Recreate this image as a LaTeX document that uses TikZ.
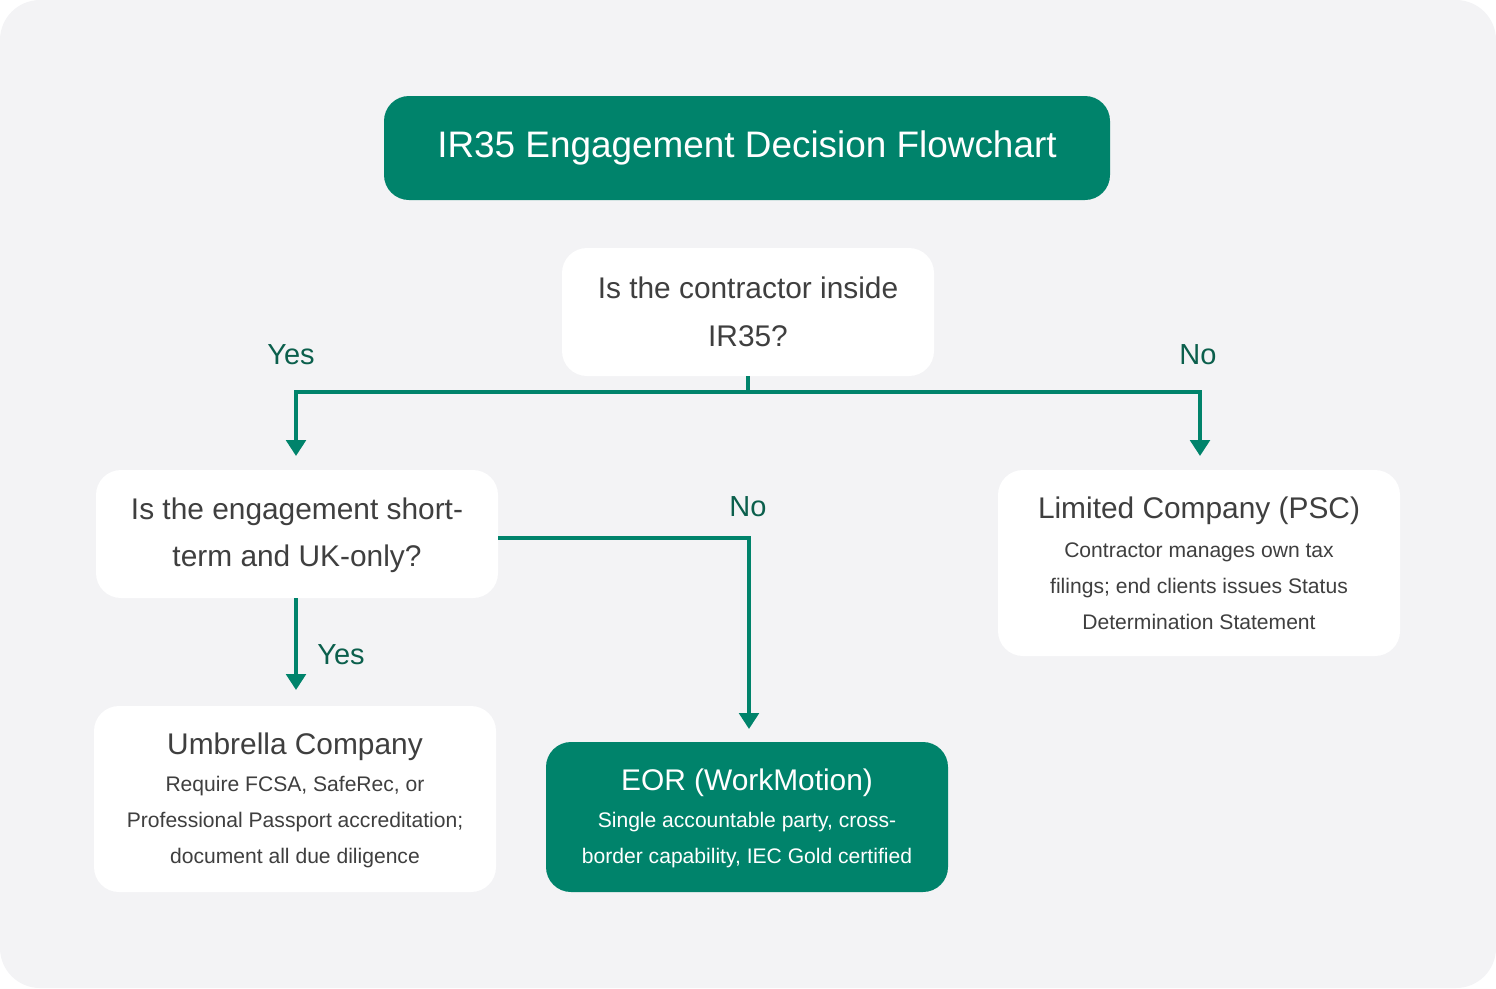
\documentclass[tikz,border=0pt]{standalone}
\usepackage{fontspec}
\setmainfont{Liberation Sans}
\usetikzlibrary{arrows.meta}
\definecolor{grn}{HTML}{00836B}
\definecolor{bg}{HTML}{F3F3F5}
\definecolor{txt}{HTML}{3F3F3F}
\definecolor{lbl}{HTML}{0B5F4C}
\begin{document}
\begin{tikzpicture}[x=0.02cm,y=-0.02cm,
 box/.style={fill=white,rounded corners=0.5cm,draw=none},
 gbox/.style={fill=grn,rounded corners=0.5cm,draw=none},
 q/.style={font=\fontsize{17}{27}\selectfont,text=txt,align=center},
 ttl/.style={font=\fontsize{17}{24}\selectfont,text=txt,align=center},
 bdy/.style={font=\fontsize{12}{20.4}\selectfont,text=txt,align=center},
 lb/.style={font=\fontsize{16.5}{20}\selectfont,text=lbl},
 conn/.style={draw=grn,line width=2.2pt},
 arr/.style={conn,-{Triangle[length=9pt,width=11pt]}}]
\useasboundingbox (0,0) rectangle (1496,988);
\fill[bg,rounded corners=0.8cm] (0,0) rectangle (1496,988);
% title
\fill[gbox] (384,96) rectangle (1110,200);
\node[font=\fontsize{21}{24}\selectfont,text=white] (title) at (747,148) {IR35 Engagement Decision Flowchart};
% Q1
\fill[box] (562,248) rectangle (934,376);
\node[q] (q1) at (748,312) {Is the contractor inside\\IR35?};
\coordinate (q1b) at (748,376);
% Q2
\fill[box] (96,470) rectangle (498,598);
\node[q] (q2) at (297,535) {Is the engagement short-\\term and UK-only?};
\coordinate (q2r) at (498,538);
\coordinate (q2b) at (296,598);
% Limited
\fill[box] (998,470) rectangle (1400,656);
\node[ttl] (lt) at (1199,511) {Limited Company (PSC)};
\node[bdy] (lb) at (1199,586) {Contractor manages own tax\\filings; end clients issues Status\\Determination Statement};
% Umbrella
\fill[box] (94,706) rectangle (496,892);
\node[ttl] (ut) at (295,747) {Umbrella Company};
\node[bdy] (ub) at (295,822) {Require FCSA, SafeRec, or\\Professional Passport accreditation;\\document all due diligence};
% EOR
\fill[gbox] (546,742) rectangle (948,892);
\node[ttl,text=white] (et) at (747,783) {EOR (WorkMotion)};
\node[bdy,text=white] (eb) at (747,840) {Single accountable party, cross-\\border capability, IEC Gold certified};
% connectors
\coordinate (j) at (748,392);
\coordinate (yl) at (296,456);
\coordinate (nr) at (1200,456);
\coordinate (eor) at (749,729);
\coordinate (umb) at (296,690);
\draw[conn] (q1b) -- (j);
\draw[arr] (j) -| (yl);
\draw[arr] (j) -| (nr);
\draw[arr] (q2r) -| (eor);
\draw[arr] (q2b) -- (umb);
\node[lb] (l1) at (291,355) {Yes};
\node[lb] (l2) at (1198,355) {No};
\node[lb] (l3) at (748,507) {No};
\node[lb] (l4) at (341,655) {Yes};
\end{tikzpicture}
\end{document}
